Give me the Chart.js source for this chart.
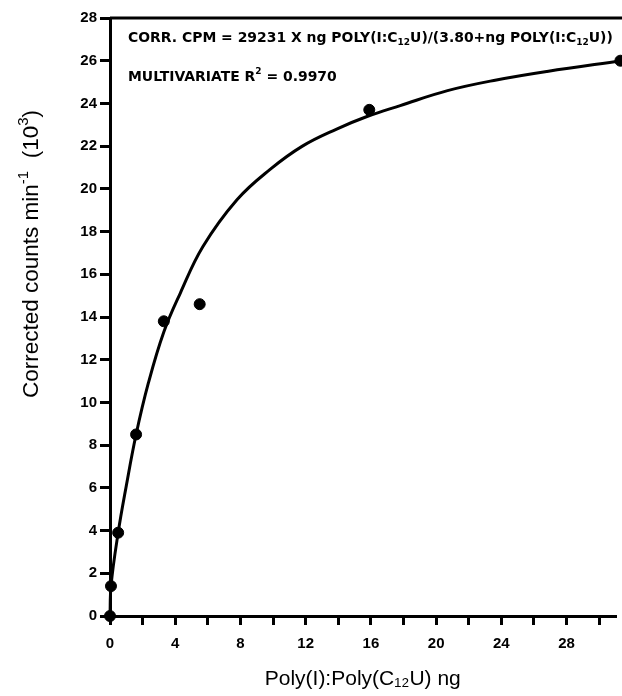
<!DOCTYPE html>
<html>
<head>
<meta charset="utf-8">
<script src="https://cdn.jsdelivr.net/npm/chart.js@4.4.0/dist/chart.umd.min.js"></script>
<style>
  html, body { margin: 0; padding: 0; background: #fff; overflow: hidden; }
  #wrap { width: 622px; height: 696px; }
</style>
</head>
<body>
<div id="wrap"><canvas id="chart"></canvas></div>
<script>
// measured points (ng, counts x10^3)
var pointX = [0, 0.06, 0.5, 1.6, 3.3, 5.5, 15.9, 31.3];
var pointY = [0, 1.4, 3.9, 8.5, 13.8, 14.6, 23.7, 26.0];

// fitted curve
var curveX = [0, 0.06, 0.5, 1.0, 1.6, 2.35, 3.3, 4.3, 5.7, 7.8, 9.8, 11.8, 13.9, 15.8, 17.8, 20.7, 23.7, 26.8, 31.4];
var curveY = [0, 1.4, 3.9, 6.1, 8.5, 10.9, 13.3, 15.1, 17.3, 19.5, 20.9, 22.0, 22.8, 23.4, 23.9, 24.6, 25.1, 25.5, 26.0];

// tick marks every 2 ng, labels every 4
var xTickValues = [0, 2, 4, 6, 8, 10, 12, 14, 16, 18, 20, 22, 24, 26, 28, 30];
var xTickLabels = ['0', '4', '8', '12', '16', '20', '24', '28'];

var FONT = 'Arial, "Liberation Sans", sans-serif';
var NOTE_FONT = '"DejaVu Sans", Arial, sans-serif';

function toXY(xs, ys) {
  return xs.map(function (x, i) { return { x: x, y: ys[i] }; });
}

// text pieces with sub/superscripts
function richWidth(ctx, parts, size, weight, family) {
  var w = 0;
  parts.forEach(function (p) {
    var s = (p.sub || p.sup) ? Math.round(size * 0.68) : size;
    ctx.font = weight + ' ' + s + 'px ' + family;
    w += ctx.measureText(p.t).width;
  });
  return w;
}

function drawRich(ctx, parts, x, y, size, weight, family) {
  parts.forEach(function (p) {
    var s = (p.sub || p.sup) ? Math.round(size * 0.68) : size;
    var dy = p.sub ? size * 0.3 : (p.sup ? -size * 0.38 : 0);
    ctx.font = weight + ' ' + s + 'px ' + family;
    ctx.fillText(p.t, x, y + dy);
    x += ctx.measureText(p.t).width;
  });
}

var line1 = [
  { t: 'CORR. CPM = 29231 X ng POLY(I:C' }, { t: '12', sub: true },
  { t: 'U)/(3.80+ng POLY(I:C' }, { t: '12', sub: true }, { t: 'U))' }
];
var line2 = [{ t: 'MULTIVARIATE R' }, { t: '2', sup: true }, { t: ' = 0.9970' }];
var yTitle = [
  { t: 'Corrected counts min' }, { t: '-1', sup: true },
  { t: '  (10' }, { t: '3', sup: true }, { t: ')' }
];

var notes = {
  id: 'notes',
  afterDraw: function (chart) {
    var ctx = chart.ctx;
    var a = chart.chartArea;
    ctx.save();
    // top frame line
    ctx.strokeStyle = '#000';
    ctx.lineWidth = 3;
    ctx.beginPath();
    ctx.moveTo(a.left, a.top);
    ctx.lineTo(chart.width, a.top);
    ctx.stroke();

    ctx.fillStyle = '#000';
    ctx.textBaseline = 'middle';
    ctx.textAlign = 'left';
    // fit the equation into the space the original uses
    var size = 12 * 486 / richWidth(ctx, line1, 12, 'bold', NOTE_FONT);
    drawRich(ctx, line1, 128, 38, size, 'bold', NOTE_FONT);
    drawRich(ctx, line2, 128, 77, size, 'bold', NOTE_FONT);

    // y axis title, rotated
    var tw = richWidth(ctx, yTitle, 22.5, 'normal', FONT);
    ctx.translate(32, 254);
    ctx.rotate(-Math.PI / 2);
    drawRich(ctx, yTitle, -tw / 2, 0, 22.5, 'normal', FONT);
    ctx.restore();
  }
};

new Chart(document.getElementById('chart').getContext('2d'), {
  type: 'scatter',
  data: {
    datasets: [{
      data: toXY(pointX, pointY),
      backgroundColor: '#000',
      borderColor: '#000',
      pointRadius: 5.5,
      pointHoverRadius: 5.5,
      clip: false
    }, {
      data: toXY(curveX, curveY),
      showLine: true,
      borderColor: '#000',
      borderWidth: 3,
      pointRadius: 0,
      tension: 0.4,
      clip: false
    }]
  },
  options: {
    responsive: true,
    maintainAspectRatio: false,
    animation: false,
    layout: { padding: { top: 18, right: 0, left: 0, bottom: 0 } },
    plugins: { legend: { display: false }, tooltip: { enabled: false } },
    scales: {
      x: {
        min: 0,
        max: 31.0,
        afterFit: function (s) { s.height = 80; },
        afterBuildTicks: function (s) {
          s.ticks = xTickValues.map(function (v) { return { value: v }; });
        },
        border: { color: '#000', width: 3 },
        grid: { drawOnChartArea: false, color: '#000', lineWidth: 3, tickLength: 9 },
        ticks: {
          autoSkip: false,
          maxRotation: 0,
          color: '#000',
          padding: 10,
          font: { family: FONT, size: 15, weight: 'bold' },
          callback: function (v) {
            var i = xTickLabels.indexOf(String(v));
            return i >= 0 ? xTickLabels[i] : '';
          }
        },
        title: {
          display: true,
          text: 'Poly(I):Poly(C\u2081\u2082U) ng',
          color: '#000',
          padding: { top: 6 },
          font: { family: FONT, size: 21 }
        }
      },
      y: {
        min: 0,
        max: 28,
        afterFit: function (s) { s.width = 110; },
        border: { color: '#000', width: 3 },
        grid: { drawOnChartArea: false, color: '#000', lineWidth: 3, tickLength: 10 },
        ticks: {
          stepSize: 2,
          color: '#000',
          padding: 3,
          font: { family: FONT, size: 15, weight: 'bold' }
        }
      }
    }
  },
  plugins: [notes]
});
</script>
</body>
</html>
